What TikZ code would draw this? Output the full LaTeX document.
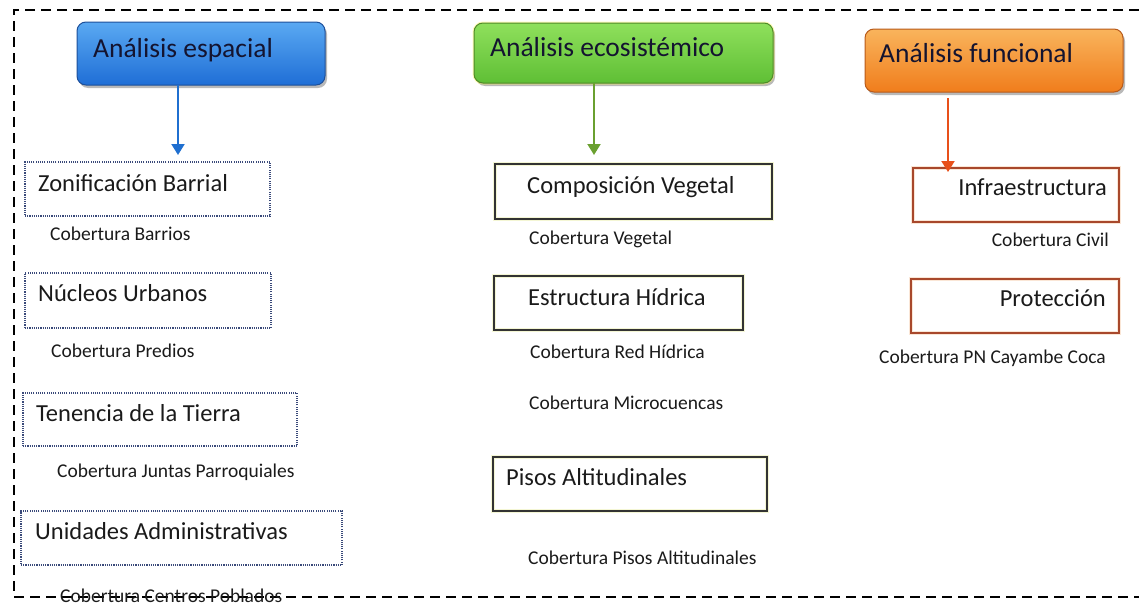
\documentclass[tikz,border=0pt]{standalone}
\usepackage{fontspec}
\setmainfont{Carlito}
\usetikzlibrary{arrows.meta,shadows}
\definecolor{bluetop}{HTML}{5AA9F2}
\definecolor{bluebot}{HTML}{1F6ED6}
\definecolor{blueedge}{HTML}{1D4F9A}
\definecolor{greentop}{HTML}{8FE05C}
\definecolor{greenbot}{HTML}{5FBF35}
\definecolor{greenedge}{HTML}{4F8A2A}
\definecolor{orangetop}{HTML}{F9B45C}
\definecolor{orangebot}{HTML}{F07D1C}
\definecolor{orangeedge}{HTML}{B85A1A}
\definecolor{bluearrow}{HTML}{1F6FD0}
\definecolor{greenarrow}{HTML}{6AA030}
\definecolor{orangearrow}{HTML}{E8501A}
\definecolor{dotedge}{HTML}{3A4A7A}
\definecolor{midedge}{HTML}{333333}
\definecolor{midglow}{HTML}{F4F6D4}
\definecolor{rightedge}{HTML}{A8482C}
\definecolor{rightglow}{HTML}{FAE6D6}
\definecolor{txt}{HTML}{1A1A1A}
\definecolor{htxt}{HTML}{141430}
\begin{document}
\begin{tikzpicture}[x=1pt,y=-1pt,
  boxbase/.style={rectangle, anchor=north west, inner sep=0pt, outer sep=0pt},
  hbox/.style={boxbase, rounded corners=9pt, line width=1pt,
    drop shadow={shadow xshift=2pt, shadow yshift=-3pt, opacity=0.55}},
  bluehead/.style={hbox, draw=blueedge, top color=bluetop, bottom color=bluebot},
  greenhead/.style={hbox, draw=greenedge, top color=greentop, bottom color=greenbot,
    preaction={draw=yellow!70!white, line width=3pt, opacity=0.4}},
  orangehead/.style={hbox, draw=orangeedge, top color=orangetop, bottom color=orangebot},
  htext/.style={anchor=base west, inner sep=0pt, font=\fontsize{27.5}{30}\selectfont, text=htxt},
  dotbox/.style={boxbase, draw=dotedge, line width=1.3pt, dash pattern=on 1.1pt off 1.1pt},
  midbox/.style={boxbase, draw=midedge, line width=1.1pt, preaction={draw=midglow, line width=3.5pt}},
  rightbox/.style={boxbase, draw=rightedge, line width=1.2pt, preaction={draw=rightglow, line width=3.5pt}},
  btext/.style={anchor=base west, inner sep=0pt, font=\fontsize{24.5}{28}\selectfont, text=txt},
  btextr/.style={btext, anchor=base east},
  ctext/.style={anchor=base west, inner sep=0pt, font=\fontsize{19.5}{22}\selectfont, text=txt},
  ctextr/.style={ctext, anchor=base east},
  conn/.style={line width=2pt, -{Triangle[width=13pt,length=11pt]}},
  frame/.style={line width=1.6pt, dash pattern=on 10pt off 6pt}
]
\useasboundingbox (0,0) rectangle (1139,605);

% outer dashed frame
\draw[frame] (1139,10) -- (14,10) -- (14,597) -- (1139,597);

% headers
\node[bluehead, minimum width=248pt, minimum height=63pt] (esp) at (77,22) {};
\node[htext] (espt) at (93,57) {Análisis espacial};
\node[greenhead, minimum width=299pt, minimum height=60pt] (eco) at (474,23) {};
\node[htext] (ecot) at (490,56) {Análisis ecosistémico};
\node[orangehead, minimum width=258pt, minimum height=63pt] (fun) at (865,29) {};
\node[htext] (funt) at (879,62) {Análisis funcional};

% left column
\node[dotbox, minimum width=245pt, minimum height=54pt] (zb) at (25,162) {};
\node[btext] (zbt) at (38,191) {Zonificación Barrial};
\node[ctext] (zbc) at (50,240.5) {Cobertura Barrios};
\node[dotbox, minimum width=246pt, minimum height=55pt] (nu) at (25,273) {};
\node[btext] (nut) at (38,301) {Núcleos Urbanos};
\node[ctext] (nuc) at (51,357.5) {Cobertura Predios};
\node[dotbox, minimum width=274pt, minimum height=53pt] (tt) at (23,393) {};
\node[btext] (ttt) at (36,421) {Tenencia de la Tierra};
\node[ctext] (ttc) at (57,477.5) {Cobertura Juntas Parroquiales};
\node[dotbox, minimum width=321pt, minimum height=54pt] (ua) at (21,511) {};
\node[btext] (uat) at (35,539) {Unidades Administrativas};
\node[ctext] (uac) at (60,602) {Cobertura Centros Poblados};

% middle column
\node[midbox, minimum width=277pt, minimum height=55pt] (cv) at (495,164) {};
\node[btext] (cvt) at (527,193) {Composición Vegetal};
\node[ctext] (cvc) at (529,244.5) {Cobertura Vegetal};
\node[midbox, minimum width=249pt, minimum height=54pt] (eh) at (494,276) {};
\node[btext] (eht) at (528,305) {Estructura Hídrica};
\node[ctext] (ehc) at (530,358.5) {Cobertura Red Hídrica};
\node[ctext] (ehm) at (529,409.5) {Cobertura Microcuencas};
\node[midbox, minimum width=274pt, minimum height=54pt] (pa) at (493,457) {};
\node[btext] (pat) at (506,485) {Pisos Altitudinales};
\node[ctext] (pac) at (528,564.5) {Cobertura Pisos Altitudinales};

% right column
\node[rightbox, minimum width=206pt, minimum height=54pt] (inf) at (913,168) {};
\node[btextr] (inft) at (1107,195) {Infraestructura};
\node[ctextr] (infc) at (1109,246.5) {Cobertura Civil};
\node[rightbox, minimum width=208pt, minimum height=54pt] (pro) at (911,279) {};
\node[btextr] (prot) at (1106,306) {Protección};
\node[ctextr] (proc) at (1106,363.5) {Cobertura PN Cayambe Coca};

% connectors
\coordinate (ax1) at (178,100);
\coordinate (ax2) at (594,100);
\coordinate (ax3) at (948,100);
\draw[conn, draw=bluearrow, fill=bluearrow, shorten >=7pt] (ax1 |- esp.south) -- (ax1 |- zb.north);
\draw[conn, draw=greenarrow, fill=greenarrow, shorten >=9pt] (ax2 |- eco.south) -- (ax2 |- cv.north);
\draw[conn, draw=orangearrow, fill=orangearrow, shorten <=6pt, shorten >=-4pt] (ax3 |- fun.south) -- (ax3 |- inf.north);
\end{tikzpicture}
\end{document}
